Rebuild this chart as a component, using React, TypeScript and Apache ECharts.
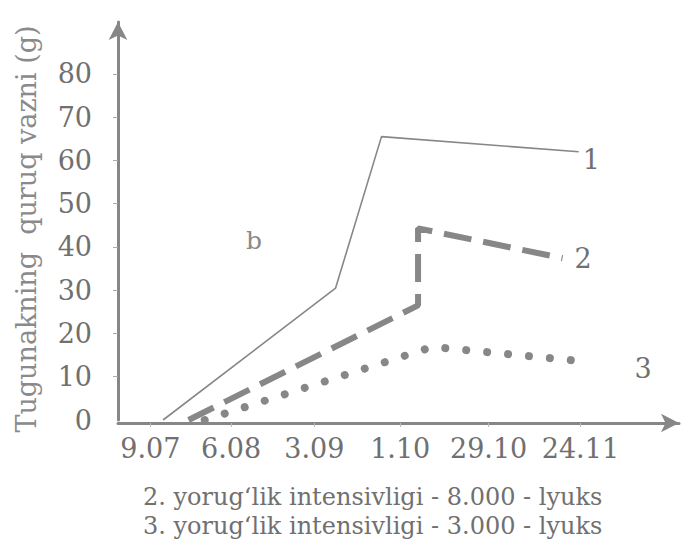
import React, { useEffect, useRef } from "react";
import * as echarts from "echarts";

const xTickLabels = ["9.07", "6.08", "3.09", "1.10", "29.10", "24.11"];
const xTickPositions = [0, 0.95, 1.93, 2.94, 3.98, 5.06];
const yTickValues = [0, 10, 20, 30, 40, 50, 60, 70, 80];

const series1: [number, number][] = [[0.15, 0], [2.18, 30.5], [2.72, 65.5], [5.04, 62]];
const series2: [number, number][] = [[0.45, 0], [3.15, 26.5], [3.15, 44.3], [4.85, 37.4]];
const series3: [number, number][] = [[0.64, 0], [3.32, 16.9], [5.18, 13.4]];

const seriesNames = ["1", "2", "3"];
const yTitle = "Tugunakning  quruq vazni (g)";
const panelLabel = "b";
const notes = [
  "2. yorug‘lik intensivligi - 8.000 - lyuks",
  "3. yorug‘lik intensivligi - 3.000 - lyuks",
];

const FONT = "DejaVu Serif";
const TXT = "#707070";
const LINE = "#878787";

export default function App() {
  const ref = useRef<HTMLDivElement>(null);
  useEffect(() => {
    if (!ref.current) return;
    const chart = echarts.init(ref.current, null, { renderer: "svg" });
    chart.setOption({
      animation: false,
      backgroundColor: "#ffffff",
      grid: {
        left: 118,
        right: 9,
        top: 22,
        bottom: 128,
        containLabel: false,
        outerBoundsMode: "none",
      },
      xAxis: {
        type: "value",
        min: -0.38,
        max: 6.22,
        offset: 3,
        splitLine: { show: false },
        axisLine: {
          show: true,
          onZero: false,
          lineStyle: { color: LINE, width: 3 },
          symbol: ["none", "arrow"],
          symbolSize: [14, 18],
        },
        axisTick: {
          show: true,
          inside: false,
          length: 4,
          customValues: xTickPositions,
          lineStyle: { color: "#bbbbbb", width: 1 },
        },
        axisLabel: {
          customValues: xTickPositions,
          formatter: (v: number) => {
            const i = xTickPositions.findIndex((p) => Math.abs(p - v) < 1e-6);
            return i >= 0 ? xTickLabels[i] : "";
          },
          color: TXT,
          fontFamily: FONT,
          fontSize: 27,
          margin: 12,
        },
      },
      yAxis: {
        type: "value",
        min: 0,
        max: 92,
        splitLine: { show: false },
        axisLine: {
          show: true,
          onZero: false,
          lineStyle: { color: LINE, width: 3 },
          symbol: ["none", "arrow"],
          symbolSize: [14, 18],
        },
        axisTick: {
          show: true,
          length: 5,
          customValues: yTickValues.filter((v) => v > 0),
          lineStyle: { color: "#aaaaaa", width: 1 },
        },
        axisLabel: {
          customValues: yTickValues,
          color: TXT,
          fontFamily: FONT,
          fontSize: 27,
          margin: 26,
        },
      },
      series: [
        {
          type: "line",
          data: series1,
          showSymbol: false,
          lineStyle: { color: LINE, width: 1.6 },
          endLabel: {
            show: true,
            formatter: seriesNames[0],
            color: TXT,
            fontFamily: FONT,
            fontSize: 27,
            offset: [-4, 8],
          },
        },
        {
          type: "line",
          data: series2,
          showSymbol: false,
          lineStyle: { color: LINE, width: 6, type: [28, 12], cap: "butt" },
          endLabel: {
            show: true,
            formatter: seriesNames[1],
            color: TXT,
            fontFamily: FONT,
            fontSize: 27,
            offset: [4, 0],
          },
        },
        {
          type: "line",
          data: series3,
          showSymbol: false,
          lineStyle: { color: LINE, width: 8, type: [0.01, 21], cap: "round" },
          endLabel: {
            show: true,
            formatter: seriesNames[2],
            color: TXT,
            fontFamily: FONT,
            fontSize: 27,
            offset: [36, 6],
          },
        },
      ],
      graphic: [
        {
          type: "text",
          x: 26,
          y: 229,
          rotation: Math.PI / 2,
          style: {
            text: yTitle,
            fill: "#8a8a8a",
            font: `27px '${FONT}'`,
            align: "center",
            verticalAlign: "middle",
          },
        },
        {
          type: "text",
          left: 246,
          top: 228,
          style: { text: panelLabel, fill: "#8a8a8a", font: `25px '${FONT}'` },
        },
        {
          type: "text",
          left: 143,
          top: 485,
          style: { text: notes[0], fill: TXT, font: `24px '${FONT}'` },
        },
        {
          type: "text",
          left: 143,
          top: 514,
          style: { text: notes[1], fill: TXT, font: `24px '${FONT}'` },
        },
      ],
    });
    return () => chart.dispose();
  }, []);
  return (
    <div
      ref={ref}
      style={{ position: "absolute", left: 0, top: 0, width: 688, height: 548 }}
    />
  );
}
